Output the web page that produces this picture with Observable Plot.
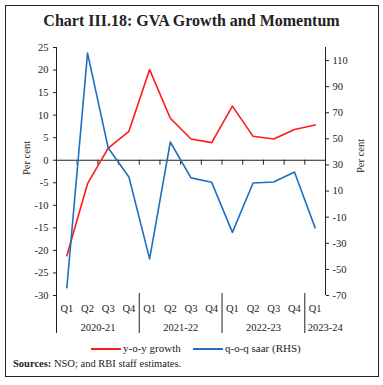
<!DOCTYPE html>
<html><head><meta charset="utf-8">
<script src="https://cdn.jsdelivr.net/npm/d3@7"></script>
<script src="https://cdn.jsdelivr.net/npm/@observablehq/plot@0.6"></script>
<style>
body{margin:0;background:#fff;width:383px;height:385px;position:relative;overflow:hidden;font-family:"Liberation Serif",serif;color:#222;}
#frame{position:absolute;left:5px;top:5px;width:374px;height:372px;border:1.5px solid #222;box-sizing:border-box;}
#title{position:absolute;left:0;width:383px;top:11px;text-align:center;font-weight:bold;font-size:16px;line-height:20px;}
#chart{position:absolute;left:0;top:40px;}
.ylab{position:absolute;font-size:10.5px;white-space:nowrap;transform:translate(-50%,-50%) rotate(-90deg);}
#legend{position:absolute;left:0;top:341px;width:383px;height:14px;font-size:11px;}
.lg{position:absolute;top:0;white-space:nowrap;line-height:14px;}
.lg span.sw{display:inline-block;width:30px;height:2px;vertical-align:middle;margin-right:2px;}
#source{position:absolute;left:13px;top:358px;font-size:10.5px;white-space:nowrap;}
</style></head>
<body>
<div id="frame"></div>
<div id="title">Chart III.18: GVA Growth and Momentum</div>
<div id="chart"></div>
<div class="ylab" style="left:26px;top:158px;">Per cent</div>
<div class="ylab" style="left:360px;top:156px;">Per cent</div>
<div id="legend"></div>
<div id="source"><b>Sources:</b> NSO; and RBI staff estimates.</div>
<script>
const quarters = ["Q1","Q2","Q3","Q4","Q1","Q2","Q3","Q4","Q1","Q2","Q3","Q4","Q1"];
const years = ["2020-21","2021-22","2022-23","2023-24"];
const yoy = [-21.2,-5.2,2.7,6.4,20.1,9.3,4.7,3.9,12.0,5.3,4.7,6.8,7.8];
const qoq = [-64.1,115.7,43.0,20.8,-41.9,47.6,20.1,16.7,-21.6,16.2,17.0,24.6,-18.2];
const seriesNames = ["y-o-y growth","q-o-q saar (RHS)"];
const seriesColors = ["#ff1a1a","#1f6fc1"];
const leftTicks = [-30,-25,-20,-15,-10,-5,0,5,10,15,20,25];
const rightTicks = [-70,-50,-30,-10,10,30,50,70,90,110];
const leftDomain = [-30,25];
const rightDomain = [-70,120];

const k = (leftDomain[1]-leftDomain[0])/(rightDomain[1]-rightDomain[0]);
const toLeft = r => leftDomain[0] + (r - rightDomain[0])*k;
const fromLeft = l => rightDomain[0] + (l - leftDomain[0])/k;

const rows = quarters.map((q,i)=>({i, q, yoy: yoy[i], qoq: toLeft(qoq[i])}));
const yearRows = years.map((y,j)=>({year:y, x: 4*j+1.5, y0: leftDomain[0]}));
const fullYears = yearRows.slice(0,3);
const lastYear = yearRows.slice(3).map(d=>({...d, x: 4*3-0.5}));
const n = quarters.length;
const boundaries = d3.range(0.5, n-1, 1);
const yearSeps = years.map((y,j)=>4*j-0.5);

const chart = Plot.plot({
  width:383, height:300,
  marginTop:7, marginBottom:45, marginLeft:56, marginRight:58,
  x:{domain:[-0.5, n-0.5], axis:null},
  y:{domain:leftDomain},
  style:{fontFamily:'"Liberation Serif",serif', fontSize:"10.5px", color:"#222", background:"transparent"},
  marks:[
    Plot.axisY({anchor:"left", ticks:leftTicks, tickSize:3, tickPadding:5, tickFormat:d=>String(d), label:null}),
    Plot.axisY({anchor:"right", ticks:rightTicks.map(toLeft), tickSize:3, tickPadding:4, tickFormat:d=>String(Math.round(fromLeft(d))), label:null}),
    Plot.ruleX([-0.5], {y1:leftDomain[0], y2:leftDomain[1], stroke:"#222"}),
    Plot.ruleX([n-0.5], {y1:leftDomain[0], y2:leftDomain[1], stroke:"#222"}),
    Plot.ruleY([0], {stroke:"#222", strokeWidth:1.2}),
    Plot.ruleX(boundaries, {y1:0, y2:0, insetBottom:-5, stroke:"#222"}),
    Plot.ruleX(yearSeps, {y1:leftDomain[0], y2:leftDomain[0], insetTop:-2, insetBottom:-38, stroke:"#222"}),
    Plot.line(rows, {x:"i", y:"yoy", stroke:seriesColors[0], strokeWidth:1.6}),
    Plot.line(rows, {x:"i", y:"qoq", stroke:seriesColors[1], strokeWidth:1.6}),
    Plot.text(rows, {x:"i", y:()=>leftDomain[0], text:"q", dy:13, fill:"#222"}),
    Plot.text(fullYears, {x:"x", y:"y0", text:"year", dy:32, fill:"#222"}),
    Plot.text(lastYear, {x:"x", y:"y0", text:"year", dy:32, dx:3, textAnchor:"start", fill:"#222"})
  ]
});
document.getElementById("chart").appendChild(chart);

const legend = document.getElementById("legend");
const lgX = [91, 193];
seriesNames.forEach((s,j)=>{
  const d = document.createElement("div");
  d.className = "lg";
  d.style.left = lgX[j] + "px";
  d.innerHTML = `<span class="sw" style="background:${seriesColors[j]}"></span>${s}`;
  legend.appendChild(d);
});
</script>
</body></html>
